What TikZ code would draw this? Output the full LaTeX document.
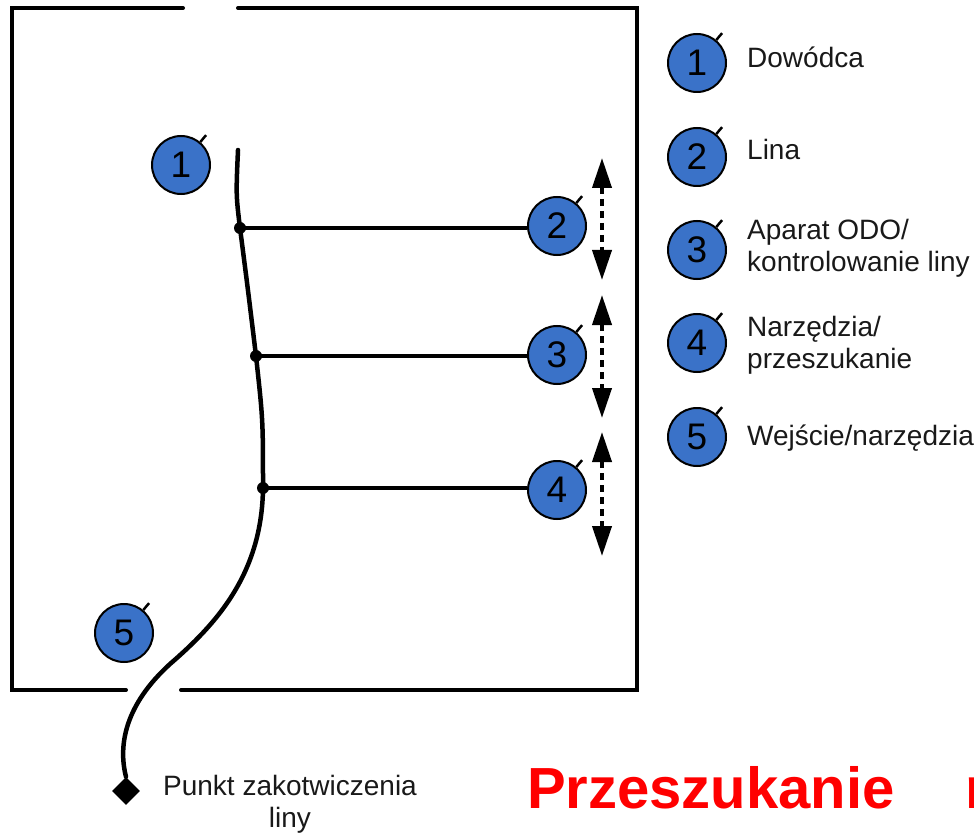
\documentclass[tikz,border=0pt]{standalone}
\usepackage{fontspec}
\setmainfont{Liberation Sans}
\usetikzlibrary{arrows.meta,calc,shapes.geometric}
\definecolor{markerblue}{RGB}{58,114,200}
\definecolor{titlered}{RGB}{255,0,0}
\tikzset{
  wall/.style={line width=4pt, line cap=round},
  rope/.style={line width=4.5pt, line cap=round},
  branch/.style={line width=3.5pt},
  knot/.style={circle, fill=black, inner sep=0pt, minimum size=12pt},
  marker/.style={circle, draw=black, line width=2pt, fill=markerblue,
    minimum size=58pt, inner sep=0pt, font=\fontsize{37}{37}\selectfont},
  tickline/.style={line width=2.5pt},
  sweep/.style={line width=4pt, dash pattern=on 7pt off 5pt,
    {Triangle[length=30pt,width=19pt]}-{Triangle[length=30pt,width=19pt]}},
  legend/.style={anchor=base west, inner sep=0pt, font=\fontsize{28}{28}\selectfont, text=black!90},
  anchorlabel/.style={anchor=base, inner sep=0pt, font=\fontsize{28}{28}\selectfont, text=black!90},
  anchorpoint/.style={diamond, fill=black, inner sep=0pt, minimum size=28pt},
  title/.style={anchor=base west, inner sep=0pt, text=titlered,
    font=\fontsize{58}{58}\selectfont\bfseries}
}
\begin{document}
\begin{tikzpicture}[x=1pt, y=-1pt]
\useasboundingbox (0,0) rectangle (974,834);
\clip (0,0) rectangle (974,834);

% room walls with the two openings
\draw[wall] (183,8) -- (12,8) -- (12,690) -- (126,690);
\draw[wall] (238,8) -- (637,8) -- (637,690) -- (181,690);

% rope route
\coordinate (ropetop) at (238,150);
\coordinate (j1) at (240,228);
\coordinate (j2) at (256,356);
\coordinate (j3) at (263,488);
\coordinate (bend) at (170,664);
\node[anchorpoint] (anchor) at (126,791) {};
\draw[rope] (ropetop) .. controls (236,195) .. (j1)
  .. controls (248,290) .. (j2)
  .. controls (263,420) .. (j3)
  .. controls (262,575) and (215,625) .. (bend)
  .. controls (125,705) and (118,745) .. (anchor.north);

% team members in the room
\node[marker] (c1) at (181,165) {1};
\node[marker] (c2) at (557,226) {2};
\node[marker] (c3) at (557,355) {3};
\node[marker] (c4) at (557,490) {4};
\node[marker] (c5) at (124,633) {5};

% side lines from the rope
\draw[branch] (j1) -- (j1 -| c2.west);
\draw[branch] (j2) -- (j2 -| c3.west);
\draw[branch] (j3) -- (j3 -| c4.west);
\foreach \k in {j1,j2,j3} \node[knot] at (\k) {};

% search sweeps
\coordinate (s2a) at (602,158); \coordinate (s2b) at (602,280);
\coordinate (s3a) at (602,295); \coordinate (s3b) at (602,418);
\coordinate (s4a) at (602,432); \coordinate (s4b) at (602,556);
\draw[sweep] (s2a) -- (s2b);
\draw[sweep] (s3a) -- (s3b);
\draw[sweep] (s4a) -- (s4b);

% legend
\node[marker] (l1) at (697,63) {1};
\node[marker] (l2) at (697,157) {2};
\node[marker] (l3) at (697,250) {3};
\node[marker] (l4) at (697,343) {4};
\node[marker] (l5) at (697,437) {5};
\node[legend] at (747,68) {Dowódca};
\node[legend] at (747,160) {Lina};
\node[legend] at (747,240) {Aparat ODO/};
\node[legend] at (747,272) {kontrolowanie liny};
\node[legend] at (747,336) {Narzędzia/};
\node[legend] at (747,368) {przeszukanie};
\node[legend] at (747,445) {Wejście/narzędzia};

\foreach \m in {c1,c2,c3,c4,c5,l1,l2,l3,l4,l5}
  \draw[tickline] (\m.50) -- ++(50:9pt);

% anchor point label
\node[anchorlabel] at (290,795) {Punkt zakotwiczenia};
\node[anchorlabel] at (290,827) {liny};

% title
\node[title] at (527,808) {Przeszukanie};
\node[title] at (965,808) {r};
\end{tikzpicture}
\end{document}
